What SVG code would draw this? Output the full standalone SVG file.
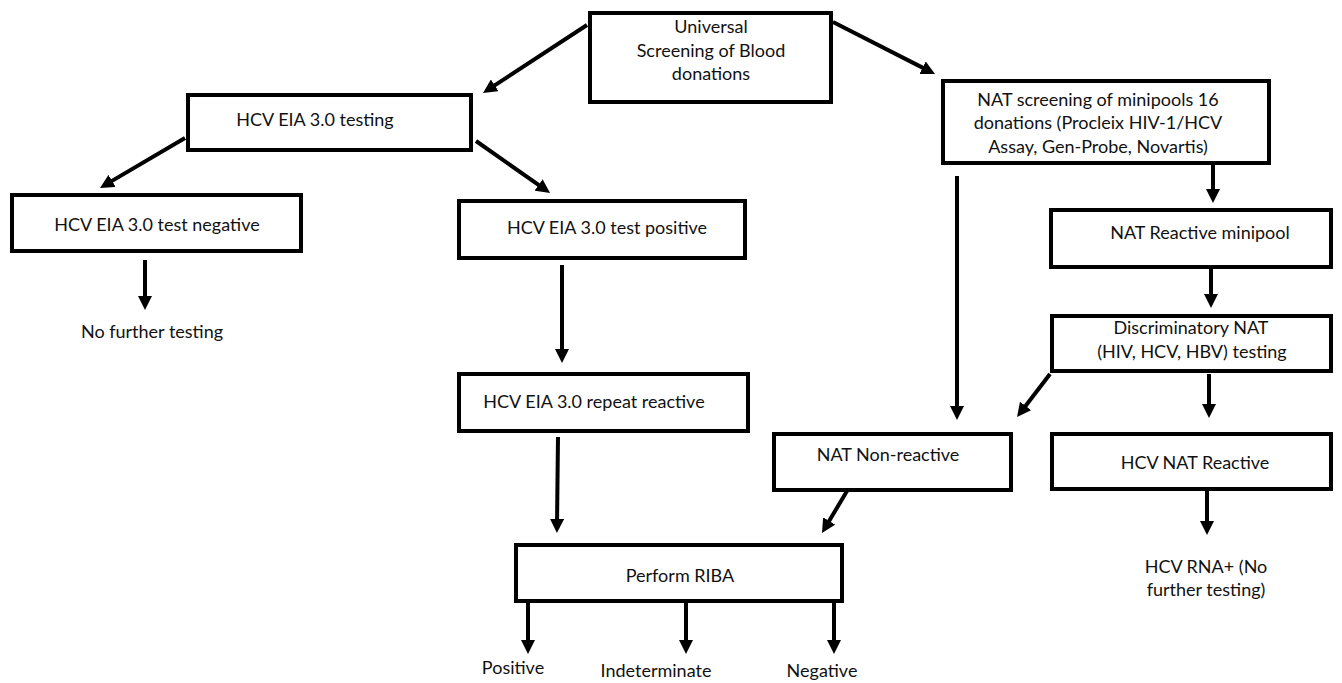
<svg xmlns="http://www.w3.org/2000/svg" width="1342" height="683" viewBox="0 0 1342 683">
<style>
.box{fill:#fff;stroke:#000;stroke-width:4}
.t{font-family:Lato,"Open Sans","Liberation Sans",sans-serif;font-size:18px;fill:#111;text-anchor:middle}
.c{stroke:#000;stroke-width:4;fill:none;marker-end:url(#ah)}
</style>
<defs>
<marker id="ah" markerUnits="userSpaceOnUse" markerWidth="14" markerHeight="14" refX="6" refY="7" orient="auto">
<path d="M0,0 L14,7 L0,14 z" fill="#000"/>
</marker>
</defs>
<rect width="1342" height="683" fill="#fff"/>
<g id="connectors">
<line class="c" x1="587" y1="25" x2="489.7" y2="88.6"/>
<line class="c" x1="833" y1="22" x2="927.9" y2="70.4"/>
<line class="c" x1="185" y1="138" x2="106.9" y2="183.9"/>
<line class="c" x1="476" y1="141" x2="543.5" y2="188.4"/>
<line class="c" x1="145" y1="260" x2="145" y2="302"/>
<line class="c" x1="562" y1="265" x2="562" y2="355"/>
<line class="c" x1="558" y1="437" x2="557" y2="525"/>
<line class="c" x1="957" y1="176" x2="957" y2="412"/>
<line class="c" x1="1213" y1="165" x2="1213" y2="195"/>
<line class="c" x1="1211" y1="268" x2="1211" y2="300"/>
<line class="c" x1="1050" y1="374" x2="1021.9" y2="410.7"/>
<line class="c" x1="1209" y1="374" x2="1209" y2="410"/>
<line class="c" x1="847" y1="491" x2="826.1" y2="526.1"/>
<line class="c" x1="1207" y1="491" x2="1207" y2="527"/>
<line class="c" x1="528" y1="603" x2="528" y2="646"/>
<line class="c" x1="686" y1="603" x2="686" y2="646"/>
<line class="c" x1="834" y1="603" x2="834" y2="646"/>
</g>
<g id="universal">
<rect class="box" x="590" y="13" width="241" height="89"/>
<text class="t" x="711" y="33">Universal</text>
<text class="t" x="711" y="57">Screening of Blood</text>
<text class="t" x="711" y="80">donations</text>
</g>
<g id="hcv-eia">
<rect class="box" x="188" y="95" width="283" height="55"/>
<text class="t" x="315" y="126">HCV EIA 3.0 testing</text>
</g>
<g id="nat-screening">
<rect class="box" x="943" y="81" width="326" height="82"/>
<text class="t" x="1098" y="106">NAT screening of minipools 16</text>
<text class="t" x="1098" y="129">donations (Procleix HIV-1/HCV</text>
<text class="t" x="1098" y="153">Assay, Gen-Probe, Novartis)</text>
</g>
<g id="eia-negative">
<rect class="box" x="12" y="195" width="289" height="56"/>
<text class="t" x="157" y="231">HCV EIA 3.0 test negative</text>
</g>
<g id="no-further">
<text class="t" x="152" y="338">No further testing</text>
</g>
<g id="eia-positive">
<rect class="box" x="459" y="201" width="286" height="57"/>
<text class="t" x="607" y="234">HCV EIA 3.0 test positive</text>
</g>
<g id="nat-minipool">
<rect class="box" x="1051" y="210" width="280" height="57"/>
<text class="t" x="1200" y="239">NAT Reactive minipool</text>
</g>
<g id="discriminatory">
<rect class="box" x="1052" y="316" width="279" height="55"/>
<text class="t" x="1191" y="334">Discriminatory NAT</text>
<text class="t" x="1192" y="358">(HIV, HCV, HBV) testing</text>
</g>
<g id="repeat-reactive">
<rect class="box" x="459" y="374" width="289" height="57"/>
<text class="t" x="594" y="408">HCV EIA 3.0 repeat reactive</text>
</g>
<g id="nat-nonreactive">
<rect class="box" x="774" y="434" width="237" height="56"/>
<text class="t" x="888" y="461">NAT Non-reactive</text>
</g>
<g id="hcv-nat-reactive">
<rect class="box" x="1052" y="434" width="279" height="55"/>
<text class="t" x="1195" y="469">HCV NAT Reactive</text>
</g>
<g id="rna">
<text class="t" x="1206" y="573">HCV RNA+ (No</text>
<text class="t" x="1206" y="596">further testing)</text>
</g>
<g id="riba">
<rect class="box" x="516" y="545" width="326" height="56"/>
<text class="t" x="680" y="582">Perform RIBA</text>
</g>
<g id="out-positive"><text class="t" x="513" y="674">Positive</text></g>
<g id="out-indeterminate"><text class="t" x="656" y="677">Indeterminate</text></g>
<g id="out-negative"><text class="t" x="822" y="677">Negative</text></g>
</svg>
